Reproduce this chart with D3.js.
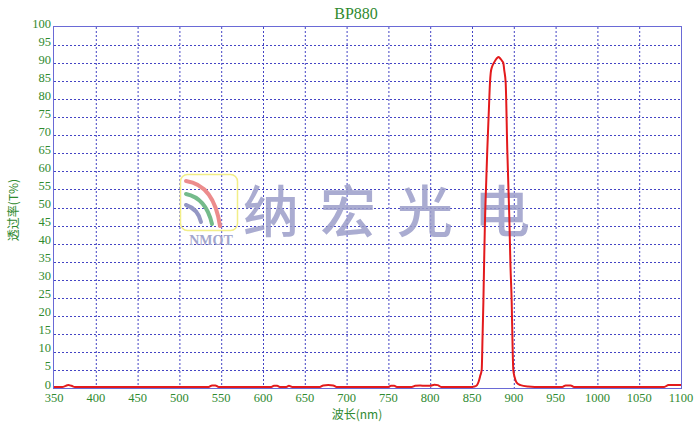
<!DOCTYPE html>
<html><head><meta charset="utf-8">
<script src="https://cdn.jsdelivr.net/npm/d3@7"></script>
<style>html,body{margin:0;padding:0;background:#fff;}svg{display:block;}</style>
</head><body>
<svg id="c" width="700" height="422"></svg>
<script>
const title = "BP880";
const xLabel = "波长(nm)";
const yLabel = "透过率(T%)";
const xTicks = [350,400,450,500,550,600,650,700,750,800,850,900,950,1000,1050,1100];
const yTicks = [0,5,10,15,20,25,30,35,40,45,50,55,60,65,70,75,80,85,90,95,100];
const wavelength = [350,360,364,367,371,375,450,535,539,543,547,610,613,617,620,628,631,635,668,672,678,684,688,750,753,757,760,778,782,788,794,800,805,809,813,850,853,856,858,860,861.6,862.6,863.6,864.6,865.6,867,868.3,870,871.5,872.4,874,876,878,880,882,884,886,887.5,888.6,890.3,892.2,894.6,896,897.5,898.5,899.4,901,903.4,908,917,925,958,962,968,972,1080,1085,1093,1100];
const transmittance = [0.3,0.3,0.6,0.8,0.6,0.3,0.3,0.3,0.7,0.7,0.3,0.3,0.6,0.6,0.3,0.3,0.6,0.3,0.3,0.7,0.8,0.7,0.3,0.3,0.6,0.6,0.3,0.3,0.6,0.7,0.6,0.6,0.9,0.8,0.3,0.3,0.4,0.8,1.8,3.5,5,14,23.6,36,47,57,66,76,84.5,87.3,89,90,90.8,91.4,91.7,91.2,90.6,90,88,84.5,66,47.6,34,23.6,12,5,3,1.5,0.8,0.4,0.3,0.3,0.7,0.7,0.3,0.3,0.8,0.8,0.8];

const svg = d3.select("#c");
const L = 54, R = 681, T = 27, B = 388;
const x = d3.scaleLinear().domain([350,1100]).range([L,R]);
const y = d3.scaleLinear().domain([0,100]).range([B,T]);
const green = "#2f8a2f";
const gridC = "#4444c4";
const frameC = "#6a6ad6";

// grid
const grid = svg.append("g");
grid.selectAll("line.v").data(xTicks.slice(1,-1)).join("line")
  .attr("x1", d=>x(d)+0.5).attr("x2", d=>x(d)+0.5).attr("y1", T).attr("y2", B)
  .attr("stroke", gridC).attr("stroke-width",1).attr("stroke-dasharray","2,2");
grid.selectAll("line.h").data(yTicks.slice(1,-1)).join("line")
  .attr("y1", d=>Math.round(y(d))+0.5).attr("y2", d=>Math.round(y(d))+0.5).attr("x1", L).attr("x2", R)
  .attr("stroke", gridC).attr("stroke-width",1).attr("stroke-dasharray","2,2");

// watermark
const wm = svg.append("g");
wm.append("rect").attr("x",180.5).attr("y",174.5).attr("width",57).attr("height",56).attr("rx",7)
  .attr("fill","none").attr("stroke","#f2ee88").attr("stroke-width",1.5);
wm.append("path").attr("d","M186,181 Q214,185 220,226").attr("fill","none").attr("stroke","#ec8c8c").attr("stroke-width",4).attr("stroke-linecap","round");
wm.append("path").attr("d","M186,194 Q206,198 212,224").attr("fill","none").attr("stroke","#74bb8a").attr("stroke-width",4).attr("stroke-linecap","round");
wm.append("path").attr("d","M186,205 Q198,209 201,222").attr("fill","none").attr("stroke","#9497c4").attr("stroke-width",4).attr("stroke-linecap","round");
wm.append("text").attr("x",211).attr("y",245).attr("text-anchor","middle")
  .attr("font-family","Liberation Serif").attr("font-weight","bold").attr("font-size",14)
  .attr("fill","#a3a6cc").text("NMOT");
const chars = ["纳","宏","光","电"];
wm.selectAll("text.wc").data(chars).join("text")
  .attr("x",(d,i)=>271+i*77).attr("y",232).attr("text-anchor","middle")
  .attr("font-family","Noto Sans CJK SC").attr("font-weight",500).attr("font-size",56)
  .attr("fill","#9c9ec9").attr("opacity",0.85).text(d=>d);

// frame
svg.append("rect").attr("x",L-0.5).attr("y",T-0.5).attr("width",R-L+1).attr("height",B-T+1)
  .attr("fill","none").attr("stroke",frameC).attr("stroke-width",1);

// curve
const line = d3.line().x((d,i)=>x(d)).y((d,i)=>y(transmittance[i])).curve(d3.curveMonotoneX);
svg.append("path").attr("d", line(wavelength)).attr("fill","none")
  .attr("stroke","#e31a1c").attr("stroke-width",2);

// axes labels
svg.append("g").selectAll("text").data(yTicks).join("text")
  .attr("x", L-3).attr("y", d=>y(d)+0.5).attr("text-anchor","end")
  .attr("font-family","Liberation Sans Narrow").attr("font-size",12.5).attr("fill",green)
  .text(d=>d);
svg.append("g").selectAll("text").data(xTicks).join("text")
  .attr("x", d=>x(d)).attr("y", 402).attr("text-anchor","middle")
  .attr("font-family","Liberation Sans Narrow").attr("font-size",12.5).attr("fill",green)
  .text(d=>d);

svg.append("text").attr("x",356).attr("y",19).attr("text-anchor","middle")
  .attr("font-family","Liberation Serif").attr("font-size",16).attr("fill",green).text(title);
svg.append("text").attr("x",357).attr("y",419).attr("text-anchor","middle")
  .attr("font-family","Noto Sans CJK SC").attr("font-size",12).attr("fill",green).text(xLabel);
svg.append("text").attr("transform","translate(18,210) rotate(-90)").attr("text-anchor","middle")
  .attr("font-family","Noto Sans CJK SC").attr("font-size",12).attr("fill",green).text(yLabel);
</script>
</body></html>
